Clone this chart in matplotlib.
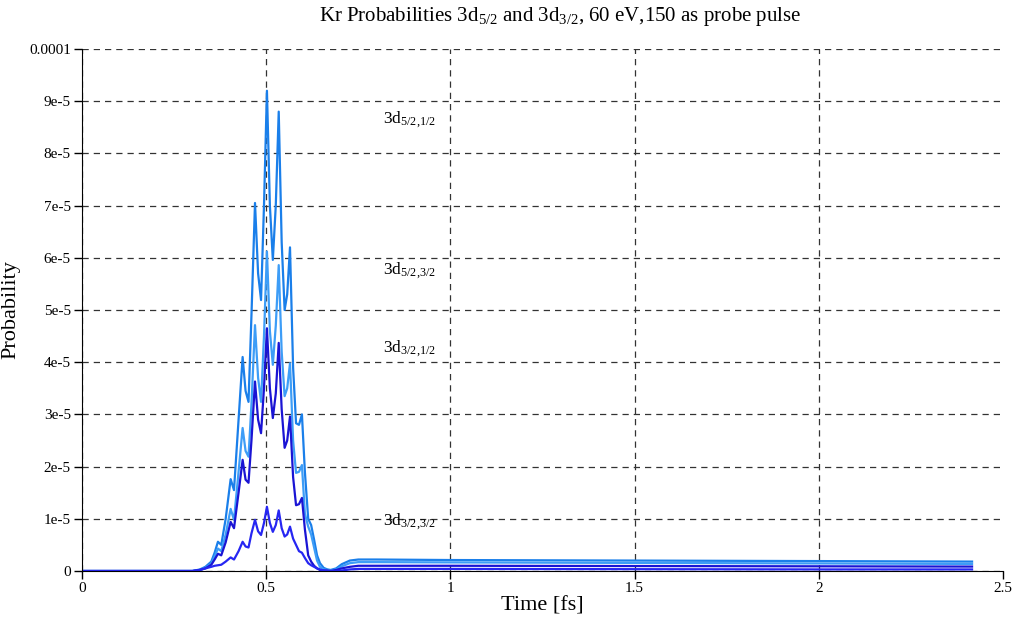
import numpy as np
import matplotlib
matplotlib.use('Agg')
import matplotlib.pyplot as plt

plt.rcParams['font.family'] = ['Liberation Serif', 'DejaVu Serif']
plt.rcParams['mathtext.fontset'] = 'custom'
plt.rcParams['mathtext.rm'] = 'Liberation Serif'
plt.rcParams['mathtext.it'] = 'Liberation Serif:italic'

# time axis [fs]
t = [0.00, 0.30, 0.32, 0.335, 0.351, 0.360, 0.369, 0.378, 0.390, 0.4035,
     0.4126, 0.425, 0.436, 0.444, 0.452, 0.460, 0.4696, 0.478, 0.486, 0.494,
     0.502, 0.510, 0.518, 0.526, 0.534, 0.542, 0.550, 0.557, 0.5646, 0.573,
     0.581, 0.589, 0.597, 0.605, 0.614, 0.622, 0.630, 0.638, 0.646, 0.656,
     0.666, 0.675, 0.690, 0.705, 0.727, 0.750, 0.80, 1.0, 1.5, 2.0, 2.416]

# probabilities in units of 1e-5
p52_12 = [0, 0, 0.03, 0.08, 0.18, 0.35, 0.56, 0.50, 1.0, 1.76,
          1.55, 2.9, 4.1, 3.45, 3.24, 4.9, 7.05, 5.7, 5.19, 7.0,
          9.2, 7.0, 5.96, 7.0, 8.8, 6.3, 5.0, 5.3, 6.2, 3.9,
          2.83, 2.8, 3.0, 1.9, 1.0, 0.88, 0.6, 0.3, 0.15, 0.06,
          0.03, 0.02, 0.05, 0.13, 0.20, 0.22, 0.22, 0.21, 0.20, 0.19, 0.18]
p52_32 = [0, 0, 0.02, 0.06, 0.14, 0.28, 0.43, 0.38, 0.7, 1.19,
          0.98, 1.9, 2.74, 2.3, 2.19, 3.2, 4.71, 3.7, 3.24, 4.5,
          6.12, 4.6, 3.95, 4.7, 5.86, 4.2, 3.35, 3.5, 3.98, 2.5,
          1.88, 1.9, 2.03, 1.1, 0.85, 0.7, 0.45, 0.2, 0.08, 0.03,
          0.02, 0.01, 0.03, 0.09, 0.15, 0.17, 0.17, 0.165, 0.155, 0.145, 0.135]
p32_12 = [0, 0, 0.02, 0.05, 0.12, 0.22, 0.33, 0.30, 0.55, 0.94,
          0.82, 1.5, 2.13, 1.75, 1.69, 2.5, 3.63, 2.9, 2.64, 3.5,
          4.65, 3.5, 2.93, 3.4, 4.37, 3.1, 2.36, 2.5, 2.96, 1.8,
          1.26, 1.28, 1.4, 0.8, 0.30, 0.18, 0.10, 0.05, 0.02, 0.01,
          0.01, 0.0, 0.02, 0.05, 0.08, 0.10, 0.10, 0.10, 0.095, 0.09, 0.085]
p32_32 = [0, 0, 0.02, 0.05, 0.08, 0.10, 0.11, 0.12, 0.18, 0.26,
          0.22, 0.38, 0.56, 0.47, 0.45, 0.72, 0.98, 0.76, 0.69, 0.92,
          1.23, 0.92, 0.75, 0.88, 1.16, 0.82, 0.66, 0.70, 0.85, 0.62,
          0.50, 0.38, 0.35, 0.25, 0.15, 0.11, 0.08, 0.05, 0.03, 0.01,
          0.0, 0.0, 0.0, 0.01, 0.03, 0.04, 0.04, 0.04, 0.035, 0.03, 0.03]

labels = [r'3d$_{\mathrm{5/2{,}1/2}}$', r'3d$_{\mathrm{5/2{,}3/2}}$',
          r'3d$_{\mathrm{3/2{,}1/2}}$', r'3d$_{\mathrm{3/2{,}3/2}}$']
label_y = [8.58e-5, 5.68e-5, 4.18e-5, 0.88e-5]
colors = ['#1a7fea', '#3d9df7', '#1a14d4', '#2626f2']

yticks = [0, 1e-5, 2e-5, 3e-5, 4e-5, 5e-5, 6e-5, 7e-5, 8e-5, 9e-5, 1e-4]
yticklabels = ['0', '1e-5', '2e-5', '3e-5', '4e-5', '5e-5', '6e-5', '7e-5', '8e-5', '9e-5', '0.0001']
xticks = [0, 0.5, 1, 1.5, 2, 2.5]
xticklabels = ['0', '0.5', '1', '1.5', '2', '2.5']

fig = plt.figure(figsize=(10.13, 6.23), dpi=100)
ax = fig.add_axes([82/1013, 1-571/623, 921/1013, 522/623])

t = np.array(t)
for vals, c in zip([p52_12, p52_32, p32_12, p32_32], colors):
    ax.plot(t, np.array(vals)*1e-5, color=c, lw=1.6, solid_joinstyle='round')

for lab, y in zip(labels, label_y):
    ax.text(0.817, y, lab, fontsize=12.5)

ax.set_xlim(0, 2.5)
ax.set_ylim(0, 1e-4)
ax.set_xticks(xticks)
ax.set_xticklabels(xticklabels, fontsize=11)
ax.set_yticks(yticks)
ax.set_yticklabels(yticklabels, fontsize=11)
ax.tick_params(direction='out', length=6, width=1, pad=2)
ax.grid(True, color='#333333', linestyle=(0, (5, 4)), lw=0.9)
ax.get_xgridlines()[-1].set_visible(False)
ax.set_axisbelow(True)
ax.spines['top'].set_visible(False)
ax.spines['right'].set_visible(False)
ax.set_xlabel('Time [fs]', fontsize=16, labelpad=1)
ax.set_ylabel('Probability', fontsize=16, labelpad=6)
fig.text(560/1013, 1-17/623, r'Kr Probabilities 3d$_{\mathrm{5/2}}$ and 3d$_{\mathrm{3/2}}$, 60 eV,150 as probe pulse',
         ha='center', va='center', fontsize=15)

fig.savefig('out.png', dpi=100)
